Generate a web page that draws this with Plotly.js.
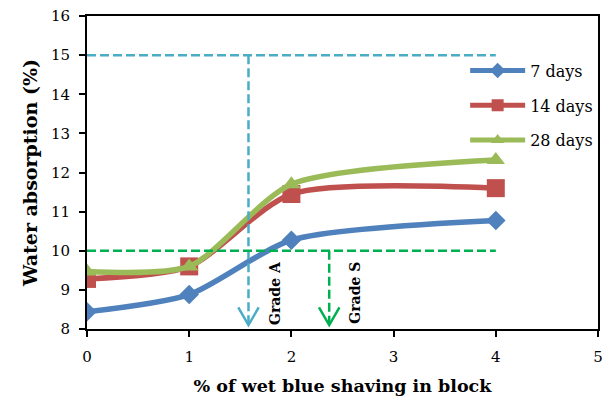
<!DOCTYPE html>
<html>
<head>
<meta charset="utf-8">
<script src="https://cdn.plot.ly/plotly-3.0.1.min.js"></script>
<style>html,body{margin:0;padding:0;background:#fff;}#chart{width:609px;height:400px;}</style>
</head>
<body>
<div id="chart"></div>
<script>
const xValues = [0, 1, 2, 4];
const days7 = [8.44, 8.88, 10.27, 10.77];
const days14 = [9.28, 9.6, 11.45, 11.6];
const days28 = [9.47, 9.6, 11.7, 12.32];
const seriesNames = ['7 days', '14 days', '28 days'];
const gradeALimit = 15;
const gradeSLimit = 10;
const gradeAx = 1.58;
const gradeSx = 2.37;
const limitEndX = 4;

const FONT = 'DejaVu Serif';
const colors = ['#4F81BD', '#C0504D', '#9BBB59'];
const symbols = ['diamond', 'square', 'triangle-up'];
const sizes = [15, 18, 16];
const ser = [days7, days14, days28];

const traces = ser.map((y, i) => ({
  x: xValues, y: y, name: seriesNames[i], type: 'scatter', mode: 'lines+markers',
  line: {color: colors[i], width: 5.5, shape: 'spline', smoothing: 0.7},
  marker: {color: colors[i], symbol: symbols[i], size: sizes[i]},
  legendgroup: 'g' + i
}));

const cyan = '#4BACC6', green = '#00B050';
const dashPat = '9px,4px';
const shapes = [
  {type:'line', xref:'x', yref:'y', x0:0, x1:limitEndX, y0:gradeALimit, y1:gradeALimit, line:{color:cyan, width:2.5, dash:dashPat}},
  {type:'line', xref:'x', yref:'y', x0:gradeAx, x1:gradeAx, y0:gradeALimit, y1:8.1, line:{color:cyan, width:2.5, dash:dashPat}},
  {type:'path', xref:'x', yref:'y', path:`M${gradeAx-0.1},8.55 L${gradeAx},8.1 L${gradeAx+0.1},8.55`, line:{color:cyan, width:2.5}},
  {type:'line', xref:'x', yref:'y', x0:0, x1:limitEndX, y0:gradeSLimit, y1:gradeSLimit, line:{color:green, width:2.5, dash:dashPat}},
  {type:'line', xref:'x', yref:'y', x0:gradeSx, x1:gradeSx, y0:gradeSLimit, y1:8.1, line:{color:green, width:2.5, dash:dashPat}},
  {type:'path', xref:'x', yref:'y', path:`M${gradeSx-0.1},8.55 L${gradeSx},8.1 L${gradeSx+0.1},8.55`, line:{color:green, width:2.5}}
];

const annotations = [
  {x:1.84, y:8.92, xref:'x', yref:'y', text:'<b>Grade A</b>', showarrow:false, textangle:-90, font:{family:FONT, size:14, color:'#000'}},
  {x:2.62, y:8.92, xref:'x', yref:'y', text:'<b>Grade S</b>', showarrow:false, textangle:-90, font:{family:FONT, size:14, color:'#000'}}
];

const layout = {
  width: 609, height: 400,
  margin: {l: 87, r: 11, t: 16, b: 71, autoexpand: false},
  paper_bgcolor: '#fff', plot_bgcolor: '#fff',
  font: {family: FONT, size: 15, color: '#000'},
  showlegend: true,
  legend: {x: 0.74, xanchor: 'left', y: 0.88, yanchor: 'top', bgcolor: 'rgba(0,0,0,0)', tracegroupgap: 11, itemsizing: 'constant', itemwidth: 55, font: {family: FONT, size: 16}},
  xaxis: {
    range: [0, 5], dtick: 1, tick0: 0, showgrid: false, zeroline: false,
    showline: true, linecolor: '#000', linewidth: 2, mirror: true,
    ticks: 'outside', ticklen: 6, tickwidth: 2, tickcolor: '#000', ticklabelstandoff: 7,
    title: {text: '<b>% of wet blue shaving in block</b>', font: {family: FONT, size: 17.5}, standoff: 15}
  },
  yaxis: {
    range: [8, 16], dtick: 1, showgrid: false, zeroline: false,
    showline: true, linecolor: '#000', linewidth: 2, mirror: true,
    ticks: 'outside', ticklen: 6, tickwidth: 2, tickcolor: '#000', ticklabelstandoff: 6,
    title: {text: '<b>Water absorption (%)</b>', font: {family: FONT, size: 19}, standoff: 8}
  },
  shapes: shapes,
  annotations: annotations
};

Plotly.newPlot('chart', traces, layout, {displayModeBar: false, staticPlot: true});
</script>
</body>
</html>
